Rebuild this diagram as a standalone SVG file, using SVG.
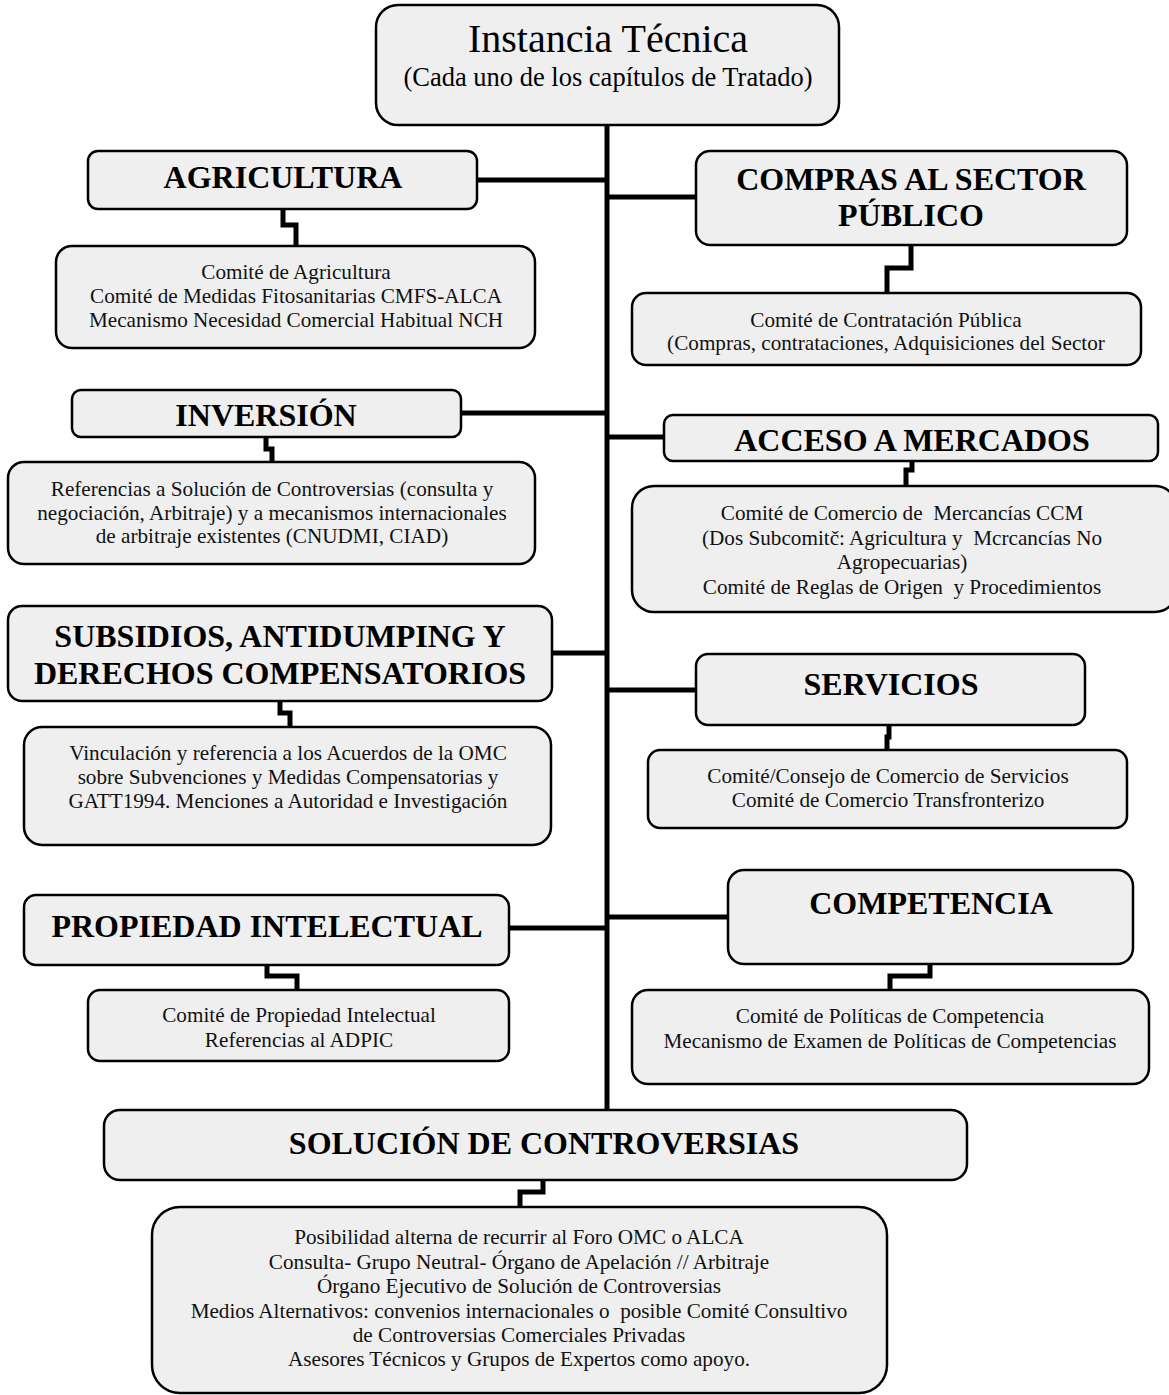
<svg xmlns="http://www.w3.org/2000/svg" width="1169" height="1395" viewBox="0 0 1169 1395">
<style>
.box{fill:#efefef;stroke:#000;stroke-width:2.5}
.h{font-family:"Liberation Serif","Times New Roman",serif;font-weight:bold;font-size:32px;text-anchor:middle;fill:#000}
.d{font-family:"Liberation Serif","Times New Roman",serif;font-size:21.2px;text-anchor:middle;fill:#111}
.c{stroke:#000;stroke-width:5;fill:none;stroke-linejoin:miter}
</style>
<rect width="1169" height="1395" fill="#fff"/>
<g id="connectors">
<path class="c" d="M607 125 V1110"/>
<path class="c" d="M477 180 H607"/>
<path class="c" d="M607 197 H696"/>
<path class="c" d="M461 413 H607"/>
<path class="c" d="M607 437 H664"/>
<path class="c" d="M552 653 H607"/>
<path class="c" d="M607 690 H696"/>
<path class="c" d="M509 928 H607"/>
<path class="c" d="M607 917 H728"/>
<path class="c" d="M283 209 V225 H296 V246"/>
<path class="c" d="M911 245 V268 H887 V293"/>
<path class="c" d="M266 437 V449 H272 V462"/>
<path class="c" d="M912 461 V470 H906 V486"/>
<path class="c" d="M280 701 V713 H290 V727"/>
<path class="c" d="M889 725 V737 H887 V750"/>
<path class="c" d="M267 965 V976 H297 V990"/>
<path class="c" d="M930 964 V976 H890 V990"/>
<path class="c" d="M543 1180 V1192 H520 V1207"/>
</g>
<g id="instancia">
<rect class="box" x="376" y="5" width="463" height="120" rx="22"/>
<text x="608" y="52" style="font-family:'Liberation Serif',serif;font-size:40px;text-anchor:middle">Instancia Técnica</text>
<text x="608" y="86" style="font-family:'Liberation Serif',serif;font-size:26.5px;text-anchor:middle">(Cada uno de los capítulos de Tratado)</text>
</g>
<g id="agricultura">
<rect class="box" x="88" y="151" width="389" height="58" rx="10"/>
<text class="h" x="283" y="188">AGRICULTURA</text>
</g>
<g id="agricultura-comites">
<rect class="box" x="56" y="246" width="479" height="102" rx="16"/>
<text class="d" x="296" y="279">Comité de Agricultura</text>
<text class="d" x="296" y="303">Comité de Medidas Fitosanitarias CMFS-ALCA</text>
<text class="d" x="296" y="327">Mecanismo Necesidad Comercial Habitual NCH</text>
</g>
<g id="compras">
<rect class="box" x="696" y="151" width="431" height="94" rx="14"/>
<text class="h" x="911" y="190">COMPRAS AL SECTOR</text>
<text class="h" x="911" y="226">PÚBLICO</text>
</g>
<g id="compras-comites">
<rect class="box" x="632" y="293" width="509" height="72" rx="14"/>
<text class="d" x="886" y="327">Comité de Contratación Pública</text>
<text class="d" x="886" y="350">(Compras, contrataciones, Adquisiciones del Sector</text>
</g>
<g id="inversion">
<rect class="box" x="72" y="390" width="389" height="47" rx="9"/>
<text class="h" x="266" y="426">INVERSIÓN</text>
</g>
<g id="inversion-ref">
<rect class="box" x="8" y="462" width="527" height="102" rx="16"/>
<text class="d" x="272" y="496">Referencias a Solución de Controversias (consulta y</text>
<text class="d" x="272" y="520">negociación, Arbitraje) y a mecanismos internacionales</text>
<text class="d" x="272" y="543">de arbitraje existentes (CNUDMI, CIAD)</text>
</g>
<g id="acceso">
<rect class="box" x="664" y="415" width="494" height="46" rx="9"/>
<text class="h" x="912" y="451">ACCESO A MERCADOS</text>
</g>
<g id="acceso-comites">
<rect class="box" x="632" y="486" width="545" height="126" rx="22"/>
<text class="d" x="902" y="520" xml:space="preserve">Comité de Comercio de  Mercancías CCM</text>
<text class="d" x="902" y="545" xml:space="preserve">(Dos Subcomitč: Agricultura y  Mcrcancías No</text>
<text class="d" x="902" y="569">Agropecuarias)</text>
<text class="d" x="902" y="594" xml:space="preserve">Comité de Reglas de Origen  y Procedimientos</text>
</g>
<g id="subsidios">
<rect class="box" x="8" y="606" width="544" height="95" rx="14"/>
<text class="h" x="280" y="647">SUBSIDIOS, ANTIDUMPING Y</text>
<text class="h" x="280" y="684">DERECHOS COMPENSATORIOS</text>
</g>
<g id="subsidios-ref">
<rect class="box" x="24" y="727" width="527" height="118" rx="18"/>
<text class="d" x="288" y="760">Vinculación y referencia a los Acuerdos de la OMC</text>
<text class="d" x="288" y="784">sobre Subvenciones y Medidas Compensatorias y</text>
<text class="d" x="288" y="808">GATT1994. Menciones a Autoridad e Investigación</text>
</g>
<g id="servicios">
<rect class="box" x="696" y="654" width="389" height="71" rx="12"/>
<text class="h" x="891" y="695">SERVICIOS</text>
</g>
<g id="servicios-comites">
<rect class="box" x="648" y="750" width="479" height="78" rx="12"/>
<text class="d" x="888" y="783">Comité/Consejo de Comercio de Servicios</text>
<text class="d" x="888" y="807">Comité de Comercio Transfronterizo</text>
</g>
<g id="propiedad">
<rect class="box" x="24" y="895" width="485" height="70" rx="12"/>
<text class="h" x="267" y="937">PROPIEDAD INTELECTUAL</text>
</g>
<g id="propiedad-comites">
<rect class="box" x="88" y="990" width="421" height="71" rx="12"/>
<text class="d" x="299" y="1022">Comité de Propiedad Intelectual</text>
<text class="d" x="299" y="1047">Referencias al ADPIC</text>
</g>
<g id="competencia">
<rect class="box" x="728" y="870" width="405" height="94" rx="16"/>
<text class="h" x="931" y="914">COMPETENCIA</text>
</g>
<g id="competencia-comites">
<rect class="box" x="632" y="990" width="517" height="94" rx="16"/>
<text class="d" x="890" y="1023">Comité de Políticas de Competencia</text>
<text class="d" x="890" y="1048">Mecanismo de Examen de Políticas de Competencias</text>
</g>
<g id="solucion">
<rect class="box" x="104" y="1110" width="863" height="70" rx="16"/>
<text class="h" x="544" y="1154">SOLUCIÓN DE CONTROVERSIAS</text>
</g>
<g id="solucion-detalle">
<rect class="box" x="152" y="1207" width="735" height="186" rx="28"/>
<text class="d" x="519" y="1244">Posibilidad alterna de recurrir al Foro OMC o ALCA</text>
<text class="d" x="519" y="1269">Consulta- Grupo Neutral- Órgano de Apelación // Arbitraje</text>
<text class="d" x="519" y="1293">Órgano Ejecutivo de Solución de Controversias</text>
<text class="d" x="519" y="1318" xml:space="preserve">Medios Alternativos: convenios internacionales o  posible Comité Consultivo</text>
<text class="d" x="519" y="1342">de Controversias Comerciales Privadas</text>
<text class="d" x="519" y="1366">Asesores Técnicos y Grupos de Expertos como apoyo.</text>
</g>
</svg>
